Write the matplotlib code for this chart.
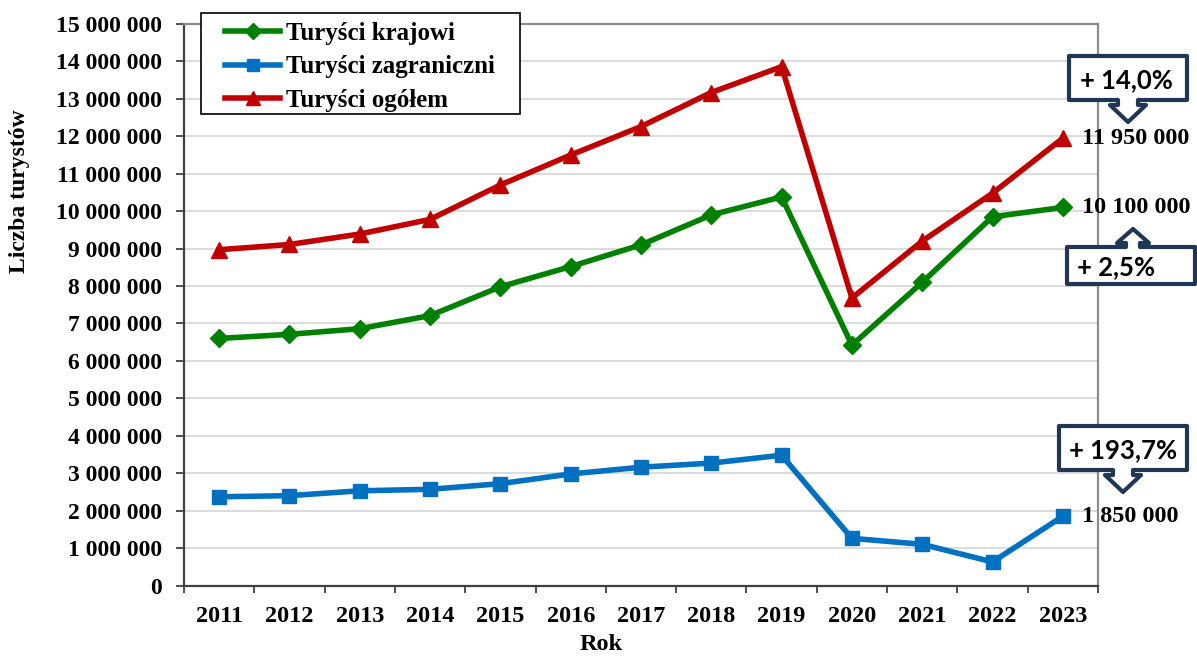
import numpy as np
import matplotlib
matplotlib.use("Agg")
import matplotlib.pyplot as plt
from matplotlib.patches import Rectangle, Polygon
from matplotlib.lines import Line2D

# ---- data ----
years = ["2011", "2012", "2013", "2014", "2015", "2016", "2017",
         "2018", "2019", "2020", "2021", "2022", "2023"]
krajowi = [6600000, 6710000, 6860000, 7210000, 7980000, 8520000, 9100000,
           9900000, 10380000, 6420000, 8100000, 9850000, 10100000]
zagraniczni = [2370000, 2400000, 2530000, 2570000, 2720000, 2980000, 3160000,
               3270000, 3480000, 1260000, 1100000, 630000, 1850000]
ogolem = [8970000, 9110000, 9390000, 9780000, 10700000, 11500000, 12260000,
          13170000, 13860000, 7680000, 9200000, 10480000, 11950000]
series_names = ["Turyści krajowi", "Turyści zagraniczni", "Turyści ogółem"]
end_labels = ["10 100 000", "1 850 000", "11 950 000"]
callout_texts = ["+ 14,0%", "+ 2,5%", "+ 193,7%"]
y_ticks = list(range(0, 15000001, 1000000))

W, H = 1197, 657
fig = plt.figure(figsize=(W / 100, H / 100), dpi=100)
fig.patch.set_facecolor("white")

def fx(x):
    return x / W

def fy(y):
    return 1 - y / H

L, R, T, B = 184, 1098, 24, 585.5
ax = fig.add_axes([fx(L), fy(B), (R - L) / W, (B - T) / H])

serif = "Liberation Serif"
green, blue, red = "#008000", "#0070C0", "#C00000"
x = np.arange(len(years))

lw = 4.0
ax.plot(x, krajowi, color=green, lw=lw, marker="D", ms=9, zorder=3,
        solid_joinstyle="round")
ax.plot(x, zagraniczni, color=blue, lw=lw, marker="s", ms=10, zorder=3,
        solid_joinstyle="round")
ax.plot(x, ogolem, color=red, lw=lw, marker="^", ms=11, zorder=3,
        solid_joinstyle="round")

ax.set_xlim(-0.5, len(years) - 0.5)
ax.set_ylim(0, 15000000)

ax.set_yticks(y_ticks)
ax.set_yticklabels([f"{v:,}".replace(",", " ") for v in y_ticks],
                   fontfamily=serif, fontweight="bold", fontsize=17)
ax.tick_params(axis="y", length=6, width=1.3, color="#404040", pad=10)

ax.set_xticks(x)
ax.set_xticklabels(years, fontfamily=serif, fontweight="bold", fontsize=17.5)
ax.tick_params(axis="x", which="major", length=0, pad=15)
ax.set_xticks(np.arange(-0.5, len(years), 1), minor=True)
ax.tick_params(axis="x", which="minor", length=5, width=1.3, color="#404040")

ax.grid(axis="y", color="#d9d9d9", lw=1.3, zorder=0)
ax.set_axisbelow(True)
for s in ["left", "bottom"]:
    ax.spines[s].set_color("#404040")
    ax.spines[s].set_linewidth(1.6)
for s in ["top", "right"]:
    ax.spines[s].set_color("#8c8c8c")
    ax.spines[s].set_linewidth(1.6)

# end value labels
for vals, lab in zip([krajowi, zagraniczni, ogolem], end_labels):
    ax.annotate(lab, (x[-1], vals[-1]), xytext=(14, 0), textcoords="offset points",
                ha="left", va="center", fontfamily=serif, fontweight="bold",
                fontsize=17.5, annotation_clip=False, zorder=4)

# axis titles
fig.text(fx(20), fy(191), "Liczba turystów", rotation=90, ha="center", va="center",
         fontfamily=serif, fontweight="bold", fontsize=17)
fig.text(fx(601), fy(645), "Rok", ha="center", va="center",
         fontfamily=serif, fontweight="bold", fontsize=17.5)

# legend
fig.add_artist(Rectangle((fx(201), fy(114)), (520 - 201) / W, (114 - 13) / H,
                         transform=fig.transFigure, facecolor="white",
                         edgecolor="black", lw=1.2, zorder=2))
handles = [
    Line2D([], [], color=green, lw=lw, marker="D", ms=8),
    Line2D([], [], color=blue, lw=lw, marker="s", ms=9),
    Line2D([], [], color=red, lw=lw, marker="^", ms=10),
]
leg = fig.legend(handles, series_names, loc="upper left",
                 bbox_to_anchor=(fx(225), fy(22)), bbox_transform=fig.transFigure,
                 frameon=False, borderpad=0, borderaxespad=0, handlelength=2.2,
                 handletextpad=0.25, labelspacing=0.42,
                 prop={"family": serif, "weight": "bold", "size": 18})
leg.set_zorder(5)

# callouts
navy = "#1F3655"

def callout_down(x0, x1, yt, yb, cx, s, h, yh, tip):
    pts = [(x0, yt), (x1, yt), (x1, yb), (cx + s, yb), (cx + s, yh),
           (cx + h, yh), (cx, tip), (cx - h, yh), (cx - s, yh), (cx - s, yb), (x0, yb)]
    return [(fx(a), fy(b)) for a, b in pts]

def callout_up(x0, x1, yt, yb, cx, s, h, yh, tip):
    pts = [(x0, yb), (x1, yb), (x1, yt), (cx + s, yt), (cx + s, yh),
           (cx + h, yh), (cx, tip), (cx - h, yh), (cx - s, yh), (cx - s, yt), (x0, yt)]
    return [(fx(a), fy(b)) for a, b in pts]

boxes = [
    (callout_down(1069, 1187, 56, 100, 1128, 10, 18, 105, 122), (1080, 80)),
    (callout_up(1067, 1195, 247, 284, 1133, 7, 16, 243, 229), (1077, 267)),
    (callout_down(1059, 1187, 426, 470, 1123, 10, 18, 475, 492), (1069, 450)),
]
for (poly, (tx, ty)), txt in zip(boxes, callout_texts):
    fig.add_artist(Polygon(poly, closed=True, transform=fig.transFigure,
                           facecolor="white", edgecolor=navy, lw=3,
                           joinstyle="round", zorder=6))
    fig.text(fx(tx), fy(ty), txt, ha="left", va="center", fontfamily="Lato",
             fontweight="bold", fontsize=18.5, color="black", zorder=7)

fig.savefig("out.png", dpi=100)
